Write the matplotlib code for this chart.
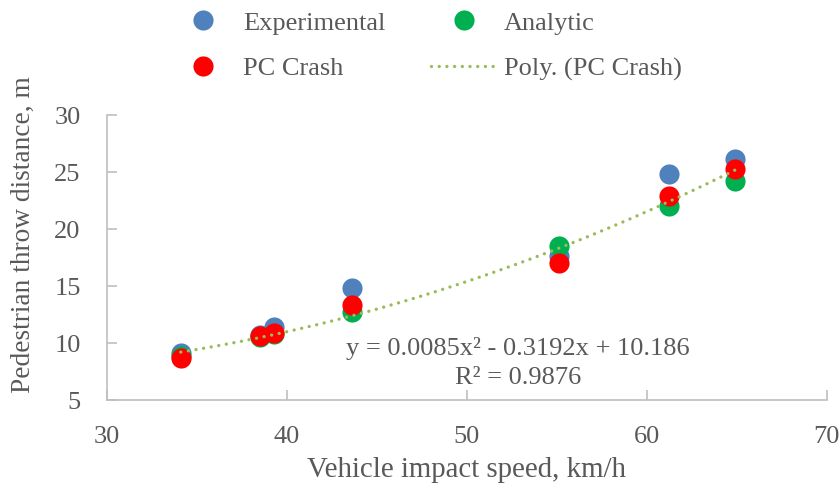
import numpy as np
import matplotlib.pyplot as plt
from matplotlib.lines import Line2D

plt.rcParams["font.family"] = ["Liberation Serif", "DejaVu Serif"]

speed = [34.1, 38.5, 39.3, 43.6, 55.1, 61.2, 64.9]
experimental = [9.1, 10.7, 11.4, 14.8, 17.6, 24.8, 26.1]
analytic = [8.9, 10.5, 10.8, 12.7, 18.5, 22.0, 24.2]
pc_crash = [8.7, 10.6, 10.9, 13.3, 17.0, 22.9, 25.3]

eq_text = "y = 0.0085x² - 0.3192x + 10.186\nR² = 0.9876"

grey = "#595959"
spine = "#bfbfbf"
fs = 19

fig = plt.figure(figsize=(8.4, 4.88), dpi=100)
ax = fig.add_axes([0.1274, 0.1803, 0.857, 0.584])

ms = 14.5
ax.plot(speed, experimental, "o", color="#4F81BD", ms=ms, mew=0, zorder=3)
ax.plot(speed, analytic, "o", color="#00B050", ms=ms, mew=0, zorder=4)
ax.plot(speed, pc_crash, "o", color="#FF0000", ms=ms, mew=0, zorder=5)

# quadratic trend on PC Crash, like Excel's poly trendline
coef = np.polyfit(speed, pc_crash, 2)
xs = np.linspace(min(speed), max(speed), 200)
ax.plot(xs, np.polyval(coef, xs), color="#9BBB59", lw=2.4,
        linestyle=(0, (0.01, 2.3)), dash_capstyle="round", zorder=6)

ax.text(0.571, 0.13, eq_text, transform=ax.transAxes, ha="center", va="center",
        fontsize=fs, color=grey, linespacing=1.37)

ax.set_xlim(30, 70)
ax.set_ylim(5, 30)
ax.set_xticks(range(30, 71, 10))
ax.set_yticks(range(5, 31, 5))
for s in ["top", "right"]:
    ax.spines[s].set_visible(False)
for s in ["left", "bottom"]:
    ax.spines[s].set_color(spine)
    ax.spines[s].set_linewidth(1.2)
ax.tick_params(direction="in", length=7, width=1.2, color=spine,
               labelsize=fs, labelcolor=grey, pad=19)
ax.set_xlabel("Vehicle impact speed, km/h", fontsize=20.8, color=grey, labelpad=6)
ax.set_ylabel("Pedestrian throw distance, m", fontsize=19.7, color=grey, labelpad=13)
ax.yaxis.label.set_y(0.582)

handles = [
    Line2D([], [], ls="", marker="o", color="#4F81BD", ms=ms, mew=0),
    Line2D([], [], ls="", marker="o", color="#FF0000", ms=ms, mew=0),
    Line2D([], [], ls="", marker="o", color="#00B050", ms=ms, mew=0),
    Line2D([], [], color="#9BBB59", lw=2.4, linestyle=(0, (0.01, 2.3)),
           dash_capstyle="round"),
]
labels = ["Experimental", "PC Crash", "Analytic", "Poly. (PC Crash)"]
leg = fig.legend(handles, labels, ncol=2, loc="center",
                 bbox_to_anchor=(426 / 840, 1 - 46 / 488), frameon=False,
                 fontsize=fs, handlelength=2.5, handletextpad=0.27,
                 columnspacing=1.7, labelspacing=0.85, borderpad=0)
for t in leg.get_texts():
    t.set_color(grey)

fig.savefig("out.png", dpi=100)
